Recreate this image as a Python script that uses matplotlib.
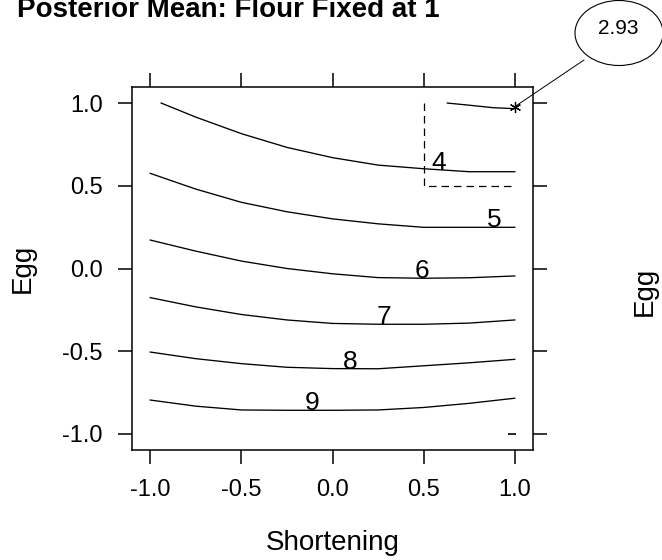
import numpy as np
import matplotlib
matplotlib.use("Agg")
import matplotlib.pyplot as plt
from matplotlib.patches import Ellipse

plt.rcParams['font.family'] = ['Liberation Sans', 'DejaVu Sans']

# contour levels of the posterior mean (flour fixed at 1)
shortening = [-1.0, -0.75, -0.5, -0.25, 0.0, 0.25, 0.5, 0.75, 1.0]
egg_5 = [0.575, 0.48, 0.40, 0.343, 0.30, 0.27, 0.249, 0.249, 0.249]
egg_6 = [0.172, 0.105, 0.045, 0.0, -0.032, -0.055, -0.059, -0.056, -0.045]
egg_7 = [-0.176, -0.232, -0.278, -0.311, -0.332, -0.337, -0.337, -0.33, -0.311]
egg_8 = [-0.505, -0.545, -0.575, -0.597, -0.605, -0.606, -0.588, -0.57, -0.549]
egg_9 = [-0.795, -0.832, -0.855, -0.857, -0.857, -0.855, -0.84, -0.815, -0.784]

# the two top contours do not span the whole range
shortening_4 = [-0.94, -0.75, -0.5, -0.25, 0.0, 0.25, 0.5, 0.75, 1.0]
egg_4 = [1.0, 0.915, 0.815, 0.732, 0.67, 0.625, 0.603, 0.585, 0.585]
shortening_3 = [0.63, 0.75, 0.88, 1.0]
egg_3 = [1.0, 0.987, 0.972, 0.966]

label_levels = [4, 5, 6, 7, 8, 9]
label_x = [0.58, 0.886, 0.493, 0.282, 0.095, -0.112]

# minimum of the surface and its value, maximum marker
min_point = (1.0, 0.978)
min_value = 2.93
max_point = (0.985, -1.0)

# region of interest (shortening >= 0.5, egg >= 0.5)
box_x = [0.5, 0.5, 1.0]
box_y = [1.0, 0.5, 0.5]

ticks = [-1.0, -0.5, 0.0, 0.5, 1.0]

fig = plt.figure(figsize=(6.62, 5.60), dpi=100)
ax = fig.add_axes([132 / 662, 1 - 450 / 560, 401 / 662, 363 / 560])

lines = {3: (shortening_3, egg_3), 4: (shortening_4, egg_4),
         5: (shortening, egg_5), 6: (shortening, egg_6),
         7: (shortening, egg_7), 8: (shortening, egg_8),
         9: (shortening, egg_9)}
for lev, (xs, ys) in lines.items():
    ax.plot(xs, ys, color='black', lw=0.95)

for lev, lx in zip(label_levels, label_x):
    xs, ys = lines[lev]
    ly = np.interp(lx, xs, ys)
    ax.text(lx, ly, str(lev), ha='center', va='baseline', fontsize=19)

ax.plot(box_x, box_y, color='black', lw=0.9, ls=(0, (6, 4)))
ax.plot(*min_point, marker=(6, 2, 0), color='black', ms=8, mew=0.9, clip_on=False)
ax.plot(*max_point, marker='_', color='black', ms=6, mew=1.2)

ax.set_xlim(-1.1, 1.1)
ax.set_ylim(-1.097, 1.097)
ax.set_xticks(ticks)
ax.set_yticks(ticks)
ax.set_xticklabels([f"{t:.1f}" for t in ticks])
ax.set_yticklabels([f"{t:.1f}" for t in ticks])
ax.tick_params(direction='out', length=10, width=1.1, labelsize=17, pad=11,
               top=True, right=True, colors='black')
for sp in ax.spines.values():
    sp.set_linewidth(1.1)

ax.set_xlabel('Shortening', fontsize=20, labelpad=21)
ax.set_ylabel('Egg', fontsize=20)
ax.yaxis.set_label_coords(-0.24, 0.5)

# callout with the minimum value
ell = Ellipse((619 / 662, 1 - 33 / 560), 88 / 662, 65 / 560,
              transform=fig.transFigure, fill=False, lw=0.8, color='black')
fig.add_artist(ell)
fig.text(618 / 662, 1 - 28 / 560, f"{min_value:.2f}", ha='center', va='center',
         fontsize=15)
ax.annotate('', xy=min_point, xycoords='data',
            xytext=(584 / 662, 1 - 60 / 560), textcoords='figure fraction',
            arrowprops=dict(arrowstyle='-', lw=0.7, color='black',
                            shrinkA=0, shrinkB=0))

fig.text(17 / 662, 1 - 17 / 560, 'Posterior Mean: Flour Fixed at 1',
         fontsize=20, fontweight='bold', ha='left', va='baseline')
# y label of the neighbouring panel
fig.text(645 / 662, 1 - 291 / 560, 'Egg', rotation=90, ha='center', va='center',
         fontsize=20)

fig.savefig('out.png', dpi=100)
